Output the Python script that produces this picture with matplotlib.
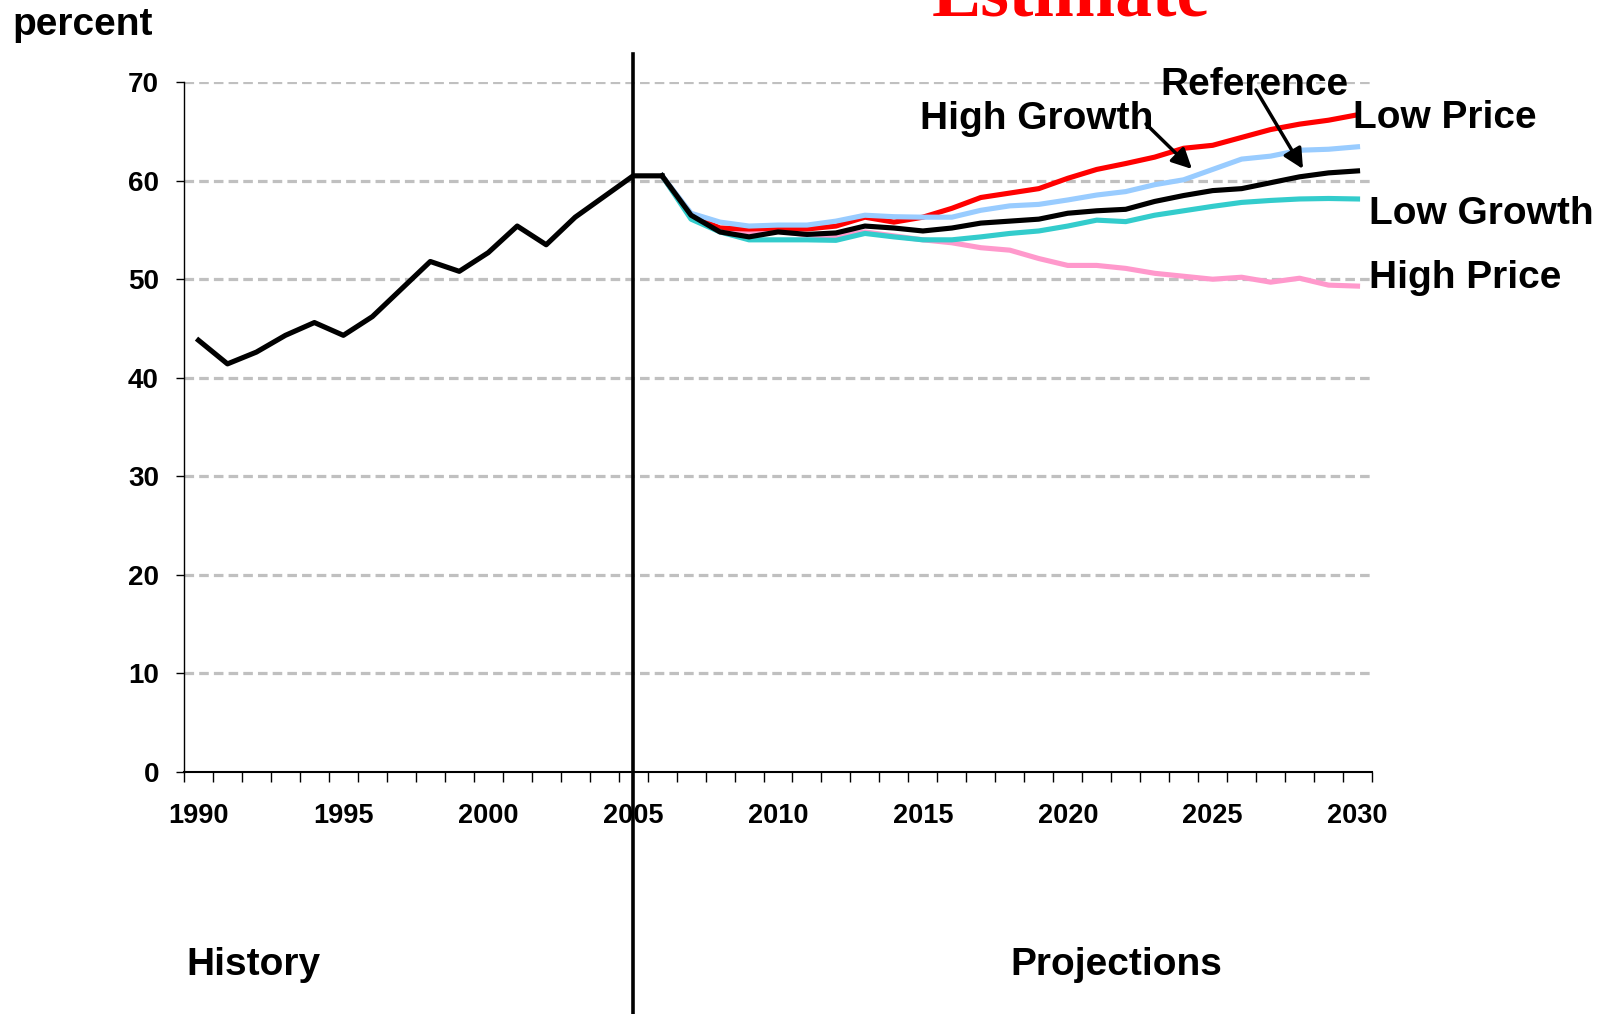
import matplotlib
matplotlib.use('Agg')
import matplotlib.pyplot as plt
from matplotlib.ticker import FixedLocator
from matplotlib.patches import FancyArrowPatch

# ---------------- data ----------------
hist_years = list(range(1990, 2007))
hist_values = [43.8, 41.4, 42.6, 44.3, 45.6, 44.3, 46.2, 49.0, 51.8, 50.8,
               52.7, 55.4, 53.5, 56.3, 58.4, 60.5, 60.5]

proj_years = list(range(2006, 2031))
reference = [60.5, 56.5, 54.8, 54.3, 54.8, 54.55, 54.7, 55.4, 55.2, 54.9,
             55.2, 55.7, 55.9, 56.1, 56.7, 56.95, 57.1, 57.9, 58.5, 59.0,
             59.2, 59.8, 60.4, 60.8, 61.0]
low_price = [60.5, 56.4, 55.2, 55.1, 55.2, 55.1, 55.4, 56.3, 55.8, 56.3,
             57.2, 58.3, 58.75, 59.2, 60.25, 61.15, 61.75, 62.4, 63.3, 63.6,
             64.4, 65.2, 65.75, 66.15, 66.7]
high_growth = [60.5, 56.7, 55.8, 55.4, 55.5, 55.5, 55.9, 56.5, 56.35, 56.3,
               56.3, 57.0, 57.45, 57.6, 58.05, 58.55, 58.9, 59.6, 60.1, 61.15,
               62.2, 62.5, 63.1, 63.2, 63.45]
low_growth = [60.5, 56.1, 54.8, 54.0, 54.0, 54.0, 53.95, 54.65, 54.3, 54.0,
              54.0, 54.3, 54.65, 54.9, 55.4, 56.0, 55.85, 56.5, 56.95, 57.4,
              57.8, 58.0, 58.15, 58.2, 58.15]
high_price = [60.5, 56.3, 55.0, 54.7, 54.9, 54.5, 54.4, 54.8, 54.4, 54.0,
              53.7, 53.2, 52.95, 52.1, 51.4, 51.4, 51.1, 50.6, 50.3, 50.0,
              50.2, 49.7, 50.1, 49.4, 49.3]

x_tick_years = [1990, 1995, 2000, 2005, 2010, 2015, 2020, 2025, 2030]
y_ticks = [0, 10, 20, 30, 40, 50, 60, 70]
divider_year = 2005

# ---------------- figure ----------------
W, H = 1613, 1014
fig = plt.figure(figsize=(W / 100, H / 100), dpi=100)
FONT = 'Liberation Sans'

def fx(x):
    return x / W

def fy(y):
    return 1 - y / H

ax = fig.add_axes([fx(184), fy(771.5), fx(1372) - fx(184), fy(82.3) - fy(771.5)])

lw = 3.7
ax.plot(proj_years, high_price, color='#ff99cc', lw=lw, solid_joinstyle='round', zorder=3)
ax.plot(proj_years, low_price, color='#ff0000', lw=lw, solid_joinstyle='round', zorder=4)
ax.plot(proj_years, high_growth, color='#99ccff', lw=lw, solid_joinstyle='round', zorder=5)
ax.plot(proj_years, low_growth, color='#33cccc', lw=lw, solid_joinstyle='round', zorder=6)
ax.plot(proj_years, reference, color='black', lw=lw, solid_joinstyle='round', zorder=7)
ax.plot(hist_years, hist_values, color='black', lw=lw, solid_joinstyle='round', zorder=7)

ax.set_xlim(1989.5, 2030.5)
ax.set_ylim(0, 70)

ax.set_xticks(x_tick_years)
ax.set_xticklabels([str(y) for y in x_tick_years])
ax.xaxis.set_minor_locator(FixedLocator([y + 0.5 for y in range(1989, 2031)]))
ax.tick_params(axis='x', which='major', length=0, pad=23)
ax.tick_params(axis='x', which='minor', length=7, width=1.0, direction='out')
ax.set_yticks(y_ticks)
ax.tick_params(axis='y', which='major', length=6, width=1.0, direction='out', pad=12)

for lab in ax.get_xticklabels():
    lab.set_fontfamily(FONT)
    lab.set_fontweight('bold')
    lab.set_fontsize(19.5)
for lab in ax.get_yticklabels():
    lab.set_fontfamily(FONT)
    lab.set_fontweight('bold')
    lab.set_fontsize(20)

for s in ['top', 'right']:
    ax.spines[s].set_visible(False)
ax.spines['left'].set_linewidth(1.0)
ax.spines['bottom'].set_linewidth(1.5)

for v in y_ticks[1:]:
    ax.axhline(v, color='#c0c0c0', lw=2.3, dashes=(3, 1.6), zorder=1)

# divider
ax.axvline(divider_year, ymin=-0.36, ymax=1.041, color='black', lw=2.6,
           clip_on=False, zorder=8)

# ---------------- texts ----------------
TS = 28
fig.text(fx(12), fy(35), 'percent', fontsize=TS, fontweight='bold', family=FONT, va='baseline')
fig.text(fx(932), fy(15), 'Estimate', fontsize=53, fontweight='bold',
         family='Liberation Serif', color='#ff0000', va='baseline')
fig.text(fx(920), fy(129), 'High Growth', fontsize=TS, fontweight='bold', family=FONT, va='baseline')
fig.text(fx(1160), fy(95), 'Reference', fontsize=TS, fontweight='bold', family=FONT, va='baseline')
fig.text(fx(1353), fy(128), 'Low Price', fontsize=TS, fontweight='bold', family=FONT, va='baseline')
fig.text(fx(1369), fy(224), 'Low Growth', fontsize=TS, fontweight='bold', family=FONT, va='baseline')
fig.text(fx(1369), fy(288), 'High Price', fontsize=TS, fontweight='bold', family=FONT, va='baseline')
fig.text(fx(186), fy(975), 'History', fontsize=TS, fontweight='bold', family=FONT, va='baseline')
fig.text(fx(1010), fy(975), 'Projections', fontsize=TS, fontweight='bold', family=FONT, va='baseline')

for (x0, y0), (x1, y1) in [((1146, 124), (1192, 169)), ((1256, 90), (1303, 169))]:
    fig.add_artist(FancyArrowPatch(
        (fx(x0), fy(y0)), (fx(x1), fy(y1)), transform=fig.transFigure,
        arrowstyle='-|>,head_length=12,head_width=6', color='black', lw=2.5,
        shrinkA=0, shrinkB=0, mutation_scale=1))

fig.savefig('out.png', dpi=100)
